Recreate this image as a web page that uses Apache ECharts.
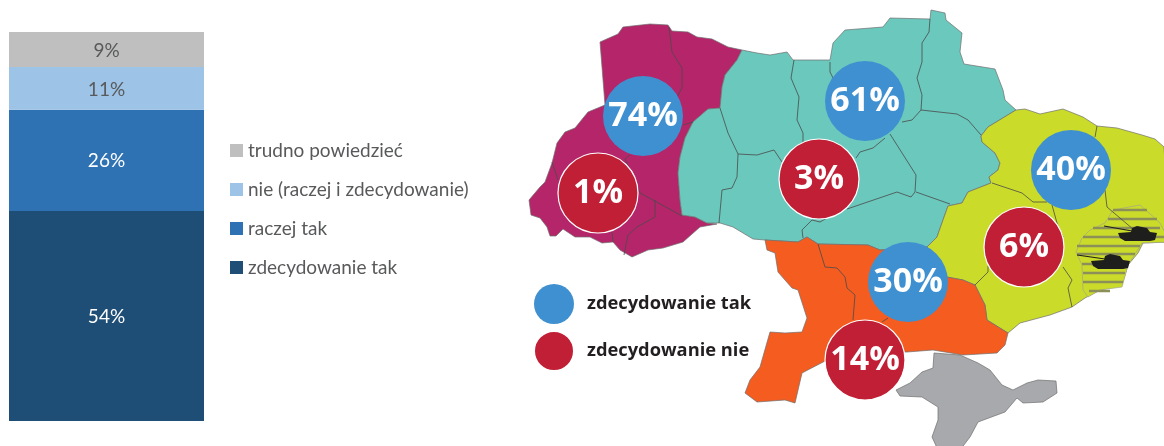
<!DOCTYPE html>
<html><head><meta charset="utf-8">
<style>html,body{margin:0;padding:0;background:#fff}#c{width:1164px;height:446px}</style>
<script src="https://cdn.jsdelivr.net/npm/echarts@6/dist/echarts.min.js"></script>
</head><body><div id="c"></div>
<script>
// ---- survey data
const answers = ['zdecydowanie tak','raczej tak','nie (raczej i zdecydowanie)','trudno powiedzieć'];
const answerValues = [54,26,11,9];
const legendOrder = ['trudno powiedzieć','nie (raczej i zdecydowanie)','raczej tak','zdecydowanie tak'];
const macroRegions = ['zachód','centrum','wschód','południe'];
const yesValues = [74,61,40,30];
const noValues = [1,3,6,14];
// bubble anchors on the map (map units)
const yesAnchors = [[643,116],[865,101],[1071,170],[908,282]];
const noAnchors = [[598,193],[819,179],[1024,247],[865,360]];
// ---- map geometry (map units)
const west = [[600,42],[618,34],[623,27],[650,24],[668,25],[672,31],[688,32],[697,37],[712,39],[728,47],[742,50],[737,60],[725,75],[722,87],[720,108],[708,109],[693,122],[685,138],[680,157],[678,173],[680,200],[682,215],[695,217],[707,223],[717,224],[700,227],[683,242],[663,248],[648,250],[632,257],[620,250],[613,242],[602,243],[590,237],[575,237],[563,229],[556,236],[550,236],[547,227],[540,218],[531,215],[529,200],[540,187],[545,182],[552,163],[557,143],[565,132],[575,128],[588,112],[605,105],[602,67]];
const centre = [[742,50],[757,53],[770,55],[787,52],[793,60],[830,60],[833,43],[845,30],[883,27],[890,18],[930,19],[931,10],[945,13],[946,20],[962,33],[960,52],[964,64],[995,69],[1003,90],[1005,100],[1016,110],[988,127],[981,136],[982,142],[995,153],[1000,163],[998,170],[989,177],[991,183],[968,192],[962,203],[948,206],[943,220],[937,237],[927,247],[880,250],[868,245],[818,244],[807,237],[798,242],[765,240],[753,239],[733,227],[720,223],[707,223],[695,217],[682,215],[680,200],[678,173],[680,157],[685,138],[693,122],[708,109],[720,108],[722,87],[725,75],[737,60]];
const east = [[1016,110],[1025,109],[1040,114],[1063,109],[1083,117],[1097,126],[1117,128],[1142,135],[1155,139],[1164,147],[1170,242],[1143,243],[1138,253],[1128,265],[1122,285],[1100,290],[1085,298],[1072,307],[1050,315],[1020,323],[1008,333],[987,320],[985,305],[975,285],[963,280],[947,277],[927,247],[937,237],[943,220],[948,206],[962,203],[968,192],[991,183],[989,177],[998,170],[1000,163],[995,153],[982,142],[981,136],[988,127]];
const south = [[765,240],[798,242],[807,237],[818,244],[868,245],[880,250],[927,247],[947,277],[963,280],[975,285],[985,305],[987,320],[1008,333],[1005,345],[997,353],[963,355],[933,350],[907,352],[870,352],[827,360],[802,373],[795,403],[785,400],[757,402],[745,393],[750,380],[760,367],[770,332],[785,333],[802,332],[807,318],[798,290],[792,288],[778,272],[775,253],[767,250]];
const crimea = [[934,353],[960,355],[978,363],[990,370],[1002,385],[1013,390],[1027,383],[1038,380],[1056,381],[1057,393],[1043,402],[1023,403],[1017,398],[1005,412],[978,422],[970,437],[960,450],[938,450],[932,437],[938,420],[938,407],[922,397],[900,396],[896,390],[910,383],[922,372],[933,368]];
const occupied = [[1140,205],[1113,210],[1105,223],[1090,230],[1082,238],[1076,252],[1082,265],[1083,290],[1088,297],[1100,290],[1122,287],[1128,265],[1142,243],[1170,242],[1160,223],[1148,212]];
const innerBorders = [
 [[669,27],[672,52],[682,68],[682,88],[677,97]],
 [[683,125],[693,122]],
 [[630,155],[625,159],[640,193],[653,200],[682,216]],
 [[655,200],[655,217],[637,227],[628,235],[624,255]],
 [[552,162],[558,180]],
 [[612,232],[613,242]],
 [[720,108],[728,133],[738,154],[757,155],[774,150],[782,162]],
 [[738,154],[737,177],[732,188],[722,190],[719,223]],
 [[794,60],[791,78],[799,97],[797,120],[803,133],[803,142]],
 [[830,62],[830,72],[835,82]],
 [[827,218],[820,222],[812,220],[802,230],[803,238]],
 [[930,19],[929,32],[922,43],[922,62],[917,78],[922,95],[921,110],[912,120],[902,122]],
 [[921,110],[957,114],[968,120],[981,135]],
 [[890,134],[916,175],[915,192],[911,197],[897,192],[847,209]],
 [[916,192],[950,204]],
 [[885,138],[873,148],[860,152],[856,158]],
 [[818,244],[825,267],[837,268],[845,277],[847,288],[855,295],[853,320]],
 [[888,318],[882,322]],
 [[975,285],[988,272],[988,266]],
 [[1063,267],[1072,280],[1068,288],[1072,307]],
 [[1097,126],[1095,137]],
 [[1105,190],[1107,207],[1140,235],[1143,241]],
 [[992,183],[1022,193],[1033,202],[1047,202]],
 [[1052,205],[1057,223],[1063,237]]
];
const stripes = [
 [[1113,210],[1147,210]],[[1108,219],[1157,219]],[[1093,228],[1160,228]],[[1083,237],[1164,237]],
 [[1077,246],[1140,246]],[[1077,254],[1135,254]],[[1082,264],[1128,264]],[[1083,273],[1125,273]],
 [[1083,282],[1123,282]],[[1089,291],[1110,291]]
];
const tanks = [
 [[1118,233],[1131,232],[1132,228],[1137,226],[1147,228],[1150,232],[1157,233],[1155,240],[1150,241],[1125,241],[1120,238]],
 [[1091,261],[1104,260],[1105,256],[1110,254],[1120,256],[1123,260],[1130,261],[1128,268],[1123,269],[1098,269],[1093,266]]
];
const tankBarrels = [
 [[1104,226],[1132,231]],
 [[1077,255],[1105,259]]
];
const shapeNames = ['zachód','centrum','wschód','południe','Krym','okupowane'];
const shapes = [west,centre,east,south,crimea,occupied];
const shapeColors = ['#b5256a','#6ac8bd','#cadb2a','#f55c20','#a7a9ac','#cadb2a'];

const closeRing = r => r.concat([r[0]]);
echarts.registerMap('ukraina',{type:'FeatureCollection',features:shapes.map((s,i)=>({
  type:'Feature',properties:{name:shapeNames[i]},
  geometry:{type:'Polygon',coordinates:[closeRing(s)]}
}))});

const seriesColors = ['#1e4d75','#2e72b3','#9dc3e6','#bfbfbf'];
const labelColors = ['#ffffff','#ffffff','#58595b','#58595b'];
const uiFont = 'Lato';
const boldFont = '"Open Sans"';

const chart = echarts.init(document.getElementById('c'),null,{renderer:'canvas'});
const bubble = (name,values,anchors,color,border)=>({
  type:'scatter',name,coordinateSystem:'geo',geoIndex:0,symbol:'circle',symbolSize:80,z:6,silent:true,
  itemStyle:{color,opacity:1,borderColor:border?'#ffffff':color,borderWidth:border?1.2:0},
  label:{show:true,position:'inside',formatter:p=>p.value[2]+'%',color:'#fff',fontFamily:boldFont,fontWeight:700,fontSize:34},
  data:anchors.map((a,i)=>[a[0],a[1],values[i]])
});
chart.setOption({
  animation:false,
  backgroundColor:'#fff',
  grid:{left:9,top:32,width:195,height:389},
  xAxis:{type:'category',data:['Ukraina'],show:false},
  yAxis:{type:'value',min:0,max:100,show:false},
  legend:[
   {data:legendOrder,orient:'vertical',left:225,top:136,itemWidth:13,itemHeight:13,itemGap:20,icon:'rect',selectedMode:false,
    textStyle:{fontFamily:uiFont,fontSize:19,color:'#58595b'}},
   {data:['zdecydowanie tak ','zdecydowanie nie'],orient:'vertical',left:528,top:279,itemWidth:40,itemHeight:40,itemGap:6,icon:'circle',selectedMode:false,
    textStyle:{fontFamily:boldFont,fontWeight:700,fontSize:18.3,color:'#231f20',padding:[0,0,0,8]}}
  ],
  geo:{map:'ukraina',projection:{project:p=>p,unproject:p=>p},boundingCoords:[[0,0],[1164,446]],
    left:0,top:0,width:1164,height:446,roam:false,silent:true,z:2,
    label:{show:false},
    itemStyle:{borderColor:'#6f6f6f',borderWidth:0.7},
    regions:shapeNames.map((n,i)=>({name:n,itemStyle:{areaColor:shapeColors[i],borderColor:n==='okupowane'?'#a3a78a':'#6f6f6f'}}))},
  series:[
    ...answers.map((a,i)=>({type:'bar',name:a,stack:'s',barWidth:'100%',silent:true,
      itemStyle:{color:seriesColors[i]},
      label:{show:true,position:'inside',offset:[0,1],formatter:'{c}%',color:labelColors[i],fontFamily:uiFont,fontSize:19},
      data:[answerValues[i]]})),
    {type:'lines',coordinateSystem:'geo',polyline:true,silent:true,z:3,
      lineStyle:{color:'#8c8f57',width:2.5,opacity:1},data:stripes.map(c=>({coords:c}))},
    {type:'lines',coordinateSystem:'geo',polyline:true,silent:true,z:4,
      lineStyle:{color:'#4a4a4a',width:0.8,opacity:1},data:innerBorders.map(c=>({coords:c}))},
    {type:'lines',coordinateSystem:'geo',polyline:true,silent:true,z:5,
      lineStyle:{color:'#1e1e1c',width:1.2,opacity:1},data:tankBarrels.map(c=>({coords:c}))},
    {type:'custom',coordinateSystem:'geo',silent:true,z:5,data:tanks.map((t,i)=>[i]),
      renderItem:(p,api)=>({type:'polygon',shape:{points:tanks[api.value(0)].map(c=>api.coord(c))},style:{fill:'#1e1e1c'}})},
    bubble('zdecydowanie tak ',yesValues,yesAnchors,'#3f90d0',false),
    bubble('zdecydowanie nie',noValues,noAnchors,'#c01f35',true)
  ]
});
</script></body></html>
